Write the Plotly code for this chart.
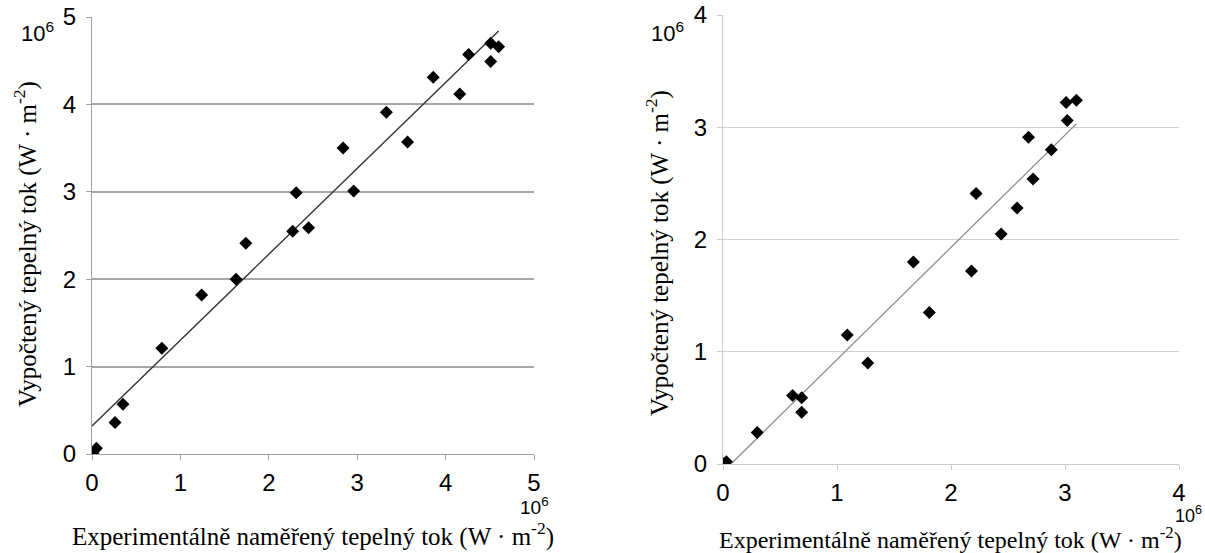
import plotly.graph_objects as go

# Left chart data (values in 10^6 W/m2)
left_x = [0.01, 0.05, 0.26, 0.35, 0.79, 1.24, 1.63, 1.74, 2.27, 2.31, 2.45, 2.84, 2.96,
          3.33, 3.57, 3.86, 4.16, 4.26, 4.51, 4.51, 4.60]
left_y = [0.01, 0.065, 0.36, 0.57, 1.21, 1.82, 2.00, 2.41, 2.55, 2.99, 2.59, 3.50, 3.01,
          3.91, 3.57, 4.31, 4.12, 4.57, 4.49, 4.70, 4.66]
left_fit_x = [0.0, 4.60]
left_fit_y = [0.32, 4.84]

# Right chart data
right_x = [0.01, 0.03, 0.30, 0.61, 0.69, 0.69, 1.09, 1.27, 1.67, 1.81, 2.18, 2.22,
           2.44, 2.58, 2.72, 2.68, 2.88, 3.02, 3.01, 3.10]
right_y = [0.005, 0.02, 0.28, 0.61, 0.59, 0.46, 1.15, 0.90, 1.80, 1.35, 1.72, 2.41,
           2.05, 2.28, 2.54, 2.91, 2.80, 3.06, 3.22, 3.24]
right_fit_x = [0.076, 3.10]
right_fit_y = [0.006, 3.03]

left_ticks_x = [0, 1, 2, 3, 4, 5]
left_ticks_y = [0, 1, 2, 3, 4, 5]
right_ticks_x = [0, 1, 2, 3, 4]
right_ticks_y = [0, 1, 2, 3, 4]

x_title = "Experimentálně naměřený tepelný tok (W · m<sup>-2</sup>)"
y_title = "Vypočtený tepelný tok (W · m<sup>-2</sup>)"
exp_label = "10<sup>6</sup>"

W, H = 1205, 553
SANS = "Liberation Sans, Arial, sans-serif"
SERIF = "Liberation Serif, Times New Roman, serif"

fig = go.Figure()
fig.add_trace(go.Scatter(x=left_fit_x, y=left_fit_y, mode="lines",
                         line=dict(color="#333333", width=1.4),
                         xaxis="x", yaxis="y", showlegend=False))
fig.add_trace(go.Scatter(x=left_x, y=left_y, mode="markers",
                         marker=dict(symbol="diamond", size=10, color="black"),
                         xaxis="x", yaxis="y", showlegend=False))
fig.add_trace(go.Scatter(x=right_fit_x, y=right_fit_y, mode="lines",
                         line=dict(color="#8c8c8c", width=1.3),
                         xaxis="x2", yaxis="y2", showlegend=False))
fig.add_trace(go.Scatter(x=right_x, y=right_y, mode="markers",
                         marker=dict(symbol="diamond", size=10, color="black"),
                         xaxis="x2", yaxis="y2", showlegend=False))


def px_x(p):
    return p / W


def px_y(p):
    return 1 - p / H


tickfont = dict(family=SANS, size=24, color="black")

common_x = dict(showgrid=False, zeroline=False, showline=True, ticks="outside",
                ticklen=5, tickfont=tickfont, fixedrange=True, automargin=False,
                ticklabelstandoff=2)
common_y = dict(zeroline=False, showline=True, ticks="outside", ticklen=5,
                tickfont=tickfont, fixedrange=True, automargin=False,
                ticklabelstandoff=5)

fig.update_layout(
    width=W, height=H,
    margin=dict(l=0, r=0, t=0, b=0, autoexpand=False),
    paper_bgcolor="white", plot_bgcolor="white",
    xaxis=dict(domain=[px_x(92), px_x(534)], range=[0, 5], tickvals=left_ticks_x,
               linecolor="#a0a0a0", tickcolor="#a0a0a0", anchor="y", **common_x),
    yaxis=dict(domain=[px_y(454), px_y(17)], range=[0, 5], tickvals=left_ticks_y,
               showgrid=True, gridcolor="#a6a6a6", gridwidth=1.5,
               linecolor="#a0a0a0", tickcolor="#a0a0a0", anchor="x", **common_y),
    xaxis2=dict(domain=[px_x(723), px_x(1179)], range=[0, 4], tickvals=right_ticks_x,
                linecolor="#cccccc", tickcolor="#cccccc", anchor="y2", **common_x),
    yaxis2=dict(domain=[px_y(464), px_y(15)], range=[0, 4], tickvals=right_ticks_y,
                showgrid=True, gridcolor="#d0d0d0", gridwidth=1.2,
                linecolor="#cccccc", tickcolor="#cccccc", anchor="x2", **common_y),
)

anns = [
    # exponent labels
    dict(x=px_x(37), y=px_y(32), text=exp_label, font=dict(family=SANS, size=22)),
    dict(x=px_x(534), y=px_y(506), text=exp_label, font=dict(family=SANS, size=19)),
    dict(x=px_x(667), y=px_y(32), text=exp_label, font=dict(family=SANS, size=22)),
    dict(x=px_x(1188), y=px_y(514), text=exp_label, font=dict(family=SANS, size=18)),
    # axis titles
    dict(x=px_x(313), y=px_y(534), text=x_title, font=dict(family=SERIF, size=25)),
    dict(x=px_x(950), y=px_y(538), text=x_title, font=dict(family=SERIF, size=24)),
    dict(x=px_x(25), y=px_y(244), text=y_title, textangle=-90, font=dict(family=SERIF, size=25)),
    dict(x=px_x(657), y=px_y(253), text=y_title, textangle=-90, font=dict(family=SERIF, size=25)),
]
for a in anns:
    a.update(xref="paper", yref="paper", showarrow=False, xanchor="center", yanchor="middle")
    a["font"]["color"] = "black"
fig.update_layout(annotations=anns)

fig.write_html("out.html")
